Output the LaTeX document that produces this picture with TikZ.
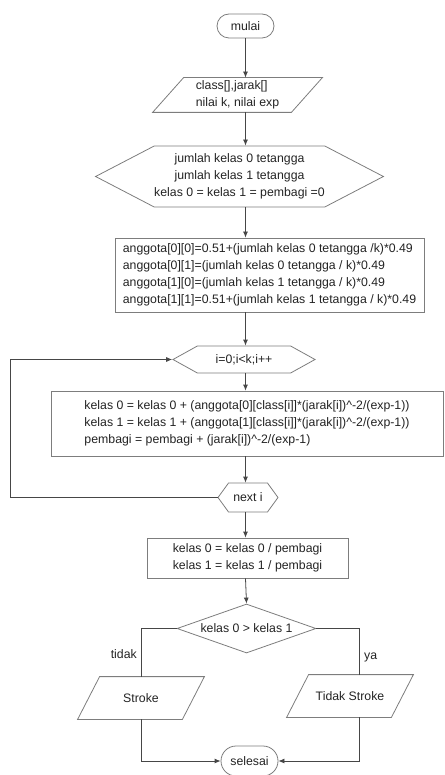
\documentclass[tikz,border=0pt]{standalone}
\usepackage{fontspec}
\setmainfont{Liberation Sans}
\usepackage{tikz}
\usetikzlibrary{calc,arrows.meta,positioning,shapes.geometric,shapes.misc,shapes.symbols}

\definecolor{edgegray}{RGB}{125,125,125}
\definecolor{linegray}{RGB}{70,70,70}
\definecolor{textgray}{RGB}{35,35,35}

\tikzset{
    base/.style={draw=edgegray, line width=0.8pt, text=textgray, inner sep=0pt,
        font=\fontsize{12.3}{16.8}\selectfont},
    terminal/.style={base, rounded rectangle},
    iobox/.style={base, draw=none, rectangle},
    prepbox/.style={base, signal, signal to=east and west},
    procbox/.style={base, rectangle},
    decbox/.style={base, diamond},
    arr/.style={draw=linegray, line width=0.8pt, -{Latex[length=6pt,width=5pt]}},
    ln/.style={draw=linegray, line width=0.8pt},
    lbl/.style={text=textgray, font=\fontsize{12.3}{14}\selectfont, inner sep=0pt}
}
% outline of an input/output box round node #1, slanted by #2
\newcommand{\slantbox}[2]{%
    \draw[edgegray, line width=0.8pt] (#1.south west) -- ($(#1.north west)+(#2,0)$) -- (#1.north east) -- ($(#1.south east)-(#2,0)$) -- cycle;}

\begin{document}
\begin{tikzpicture}[x=1pt, y=-1pt]
    \useasboundingbox (0,0) rectangle (444,775);
    % Main column
    \node[terminal, minimum width=57pt, minimum height=24pt] (mulai) at (245.5,26) {mulai};
    \node[iobox, minimum width=169pt, minimum height=34pt, align=left] (input) at (237.5,95) {class[],jarak[]\\nilai k, nilai exp};
    \slantbox{input}{31}
    \node[prepbox, minimum width=277pt, minimum height=61pt, signal pointer angle=55, align=center] (init) at (239.5,176.5) {jumlah kelas 0 tetangga\\jumlah kelas 1 tetangga\\kelas 0 = kelas 1 = pembagi =0};
    \node[procbox, minimum width=309pt, minimum height=74pt, align=left] (anggota) at (269.5,275) {anggota[0][0]=0.51+(jumlah kelas 0 tetangga /k)*0.49\\anggota[0][1]=(jumlah kelas 0 tetangga / k)*0.49\\anggota[1][0]=(jumlah kelas 1 tetangga / k)*0.49\\anggota[1][1]=0.51+(jumlah kelas 1 tetangga / k)*0.49};
    \node[prepbox, minimum width=142pt, minimum height=27pt, signal pointer angle=58] (loopi) at (244,359.5) {i=0;i<k;i++};
    \node[procbox, minimum width=392pt, minimum height=65pt, align=left] (hitung) at (247,423.5) {kelas 0 = kelas 0 + (anggota[0][class[i]]*(jarak[i])\textasciicircum-2/(exp-1))\\kelas 1 = kelas 1 + (anggota[1][class[i]]*(jarak[i])\textasciicircum-2/(exp-1))\\pembagi = pembagi + (jarak[i])\textasciicircum-2/(exp-1)};
    \node[prepbox, minimum width=60pt, minimum height=29pt, signal pointer angle=108] (nexti) at (248,497.5) {next i};
    \node[procbox, minimum width=201pt, minimum height=40pt, align=center] (bagi) at (247.5,558) {kelas 0 = kelas 0 / pembagi\\kelas 1 = kelas 1 / pembagi};
    \node[decbox, minimum width=139pt, minimum height=49pt, aspect=2.8] (cek) at (246.5,628.5) {kelas 0 > kelas 1};
    % Outputs and end
    \node[iobox, minimum width=126pt, minimum height=42pt] (stroke) at (141,698) {Stroke};
    \slantbox{stroke}{22}
    \node[iobox, minimum width=126pt, minimum height=42pt] (nostroke) at (350,696) {Tidak Stroke};
    \slantbox{nostroke}{22}
    \node[terminal, minimum width=57pt, minimum height=30pt] (selesai) at (249.5,761) {selesai};
    \coordinate (loopx) at (10,497.5);
    \coordinate (yax) at (359,675);
    % Connectors
    \draw[arr] (mulai.south) -- (input.north -| mulai);
    \draw[arr] (input.south -| mulai) -- (init.north -| mulai);
    \draw[arr] (init.south -| mulai) -- (anggota.north -| mulai);
    \draw[arr] (anggota.south -| mulai) -- (loopi.north -| mulai);
    \draw[arr] (loopi.south -| mulai) -- (hitung.north -| mulai);
    \draw[arr] (hitung.south -| mulai) -- (nexti.north -| mulai);
    \draw[arr] (nexti.south -| mulai) -- (bagi.north -| mulai);
    \draw[arr] (bagi.south -| mulai) -- (cek.north);
    \draw[arr] (nexti.west) -- (loopx) |- (loopi.west);
    % Branches
    \draw[ln] (cek.west) -| (stroke.north);
    \draw[ln] (cek.east) -| (yax);
    \draw[arr] (stroke.south) |- (selesai.west);
    \draw[arr] (nostroke.south -| yax) |- (selesai.east);
    \node[lbl, anchor=east] (tidak) at (137,654) {tidak};
    \node[lbl, anchor=west] (ya) at (364,657) {ya};
\end{tikzpicture}
\end{document}
